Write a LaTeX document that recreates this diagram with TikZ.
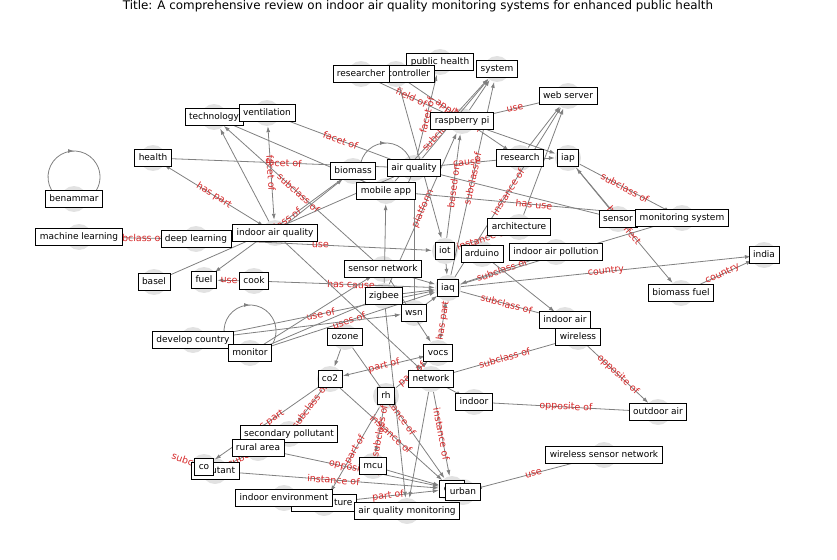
\documentclass[tikz,border=0pt]{standalone}
\usepackage{fontspec}
\setmainfont{DejaVu Sans}
\usetikzlibrary{arrows.meta,decorations.markings}
\definecolor{edgegray}{RGB}{128,128,128}
\definecolor{labelred}{RGB}{214,39,40}
\definecolor{nodegray}{RGB}{226,226,226}
\tikzset{
  dot/.style={circle, fill=nodegray, draw=none, minimum size=26pt, inner sep=0pt},
  box/.style={draw=black, fill=white, line width=0.8pt, inner xsep=4pt, inner ysep=4pt,
              font=\fontsize{9}{9}\selectfont, text height=6.8pt, text depth=2pt},
  conn/.style={draw=edgegray, line width=0.8pt, -{Latex[length=6pt,width=4pt]}},
  biconn/.style={draw=edgegray, line width=0.8pt, {Latex[length=6pt,width=4pt]}-{Latex[length=6pt,width=4pt]}},
  elabel/.style={text=labelred, font=\fontsize{9.5}{9.5}\selectfont, sloped, inner sep=0pt, midway},
  loopc/.style={draw=edgegray, line width=0.8pt, postaction={decorate},
     decoration={markings, mark=at position 0.5 with {\arrow{Latex[length=6pt,width=4pt]}}}}
}
\begin{document}
\begin{tikzpicture}[x=1pt,y=-1pt]
\useasboundingbox (0,0) rectangle (837,559);
% ---------- node discs ----------
\node[dot] (c-pubhealth) at (440,62) {};
\node[dot] (c-system) at (497,69) {};
\node[dot] (c-controller) at (396,74) {};
\node[dot] (c-researcher) at (361,74) {};
\node[dot] (c-webserver) at (568,96) {};
\node[dot] (c-rpi) at (462,121) {};
\node[dot] (c-technology) at (214,117) {};
\node[dot] (c-ventilation) at (267,113) {};
\node[dot] (c-health) at (153,158) {};
\node[dot] (c-research) at (520,158) {};
\node[dot] (c-iap) at (568,158) {};
\node[dot] (c-biomass) at (353,171) {};
\node[dot] (c-airq) at (414,168) {};
\node[dot] (c-mobileapp) at (386,191) {};
\node[dot] (c-benammar) at (74,199) {};
\node[dot] (c-sensor) at (618,219) {};
\node[dot] (c-monsys) at (682,218) {};
\node[dot] (c-architecture) at (519,227) {};
\node[dot] (c-ml) at (79,237) {};
\node[dot] (c-dl) at (196,239) {};
\node[dot] (c-iaqual) at (275,233) {};
\node[dot] (c-iot) at (445,251) {};
\node[dot] (c-arduino) at (482,254) {};
\node[dot] (c-iapoll) at (556,252) {};
\node[dot] (c-india) at (764,255) {};
\node[dot] (c-sensnet) at (383,269) {};
\node[dot] (c-basel) at (154,282) {};
\node[dot] (c-fuel) at (204,280) {};
\node[dot] (c-cook) at (254,281) {};
\node[dot] (c-iaq) at (448,288) {};
\node[dot] (c-zigbee) at (384,296) {};
\node[dot] (c-biofuel) at (681,293) {};
\node[dot] (c-wsn) at (414,313) {};
\node[dot] (c-indoorair) at (565,320) {};
\node[dot] (c-wireless) at (578,337) {};
\node[dot] (c-devcountry) at (193,340) {};
\node[dot] (c-ozone) at (345,337) {};
\node[dot] (c-monitor) at (250,353) {};
\node[dot] (c-vocs) at (438,353) {};
\node[dot] (c-co2) at (330,379) {};
\node[dot] (c-network) at (431,379) {};
\node[dot] (c-rh) at (386,396) {};
\node[dot] (c-indoor) at (474,402) {};
\node[dot] (c-outdoorair) at (658,412) {};
\node[dot] (c-secpoll) at (289,434) {};
\node[dot] (c-rural) at (258,448) {};
\node[dot] (c-wsnfull) at (604,455) {};
\node[dot] (c-pollutant) at (215,471) {};
\node[dot] (c-co) at (204,467) {};
\node[dot] (c-mcu) at (373,466) {};
\node[dot] (c-temperature) at (324,503) {};
\node[dot] (c-indoorenv) at (284,498) {};
\node[dot] (c-city) at (452,489) {};
\node[dot] (c-urban) at (463,492) {};
\node[dot] (c-aqm) at (407,511) {};
% ---------- connectors ----------
\draw[conn] (c-researcher) -- node[elabel]{field of} (c-rpi);
\draw[conn] (c-controller) -- node[elabel]{application} (c-research);
\draw[conn] (c-airq) -- node[elabel]{facet of} (c-pubhealth);
\draw[conn] (c-mobileapp) -- node[elabel]{subclass of} (c-system);
\draw[conn] (c-zigbee) -- node[elabel]{platform} (c-rpi);
\draw[conn] (c-iot) -- node[elabel]{based on} (c-rpi);
\draw[conn] (c-iaq) -- node[elabel]{subclass of} (c-system);
\draw[conn] (c-iaq) -- node[elabel]{instance of} (c-webserver);
\draw[conn] (c-airq) -- node[elabel]{cause} (c-research);
\draw[conn] (c-rpi) -- node[elabel]{use} (c-webserver);
\draw[conn] (c-research) -- (c-webserver);
\draw[conn] (c-architecture) -- (c-webserver);
\draw[conn] (c-rpi) -- (c-iap);
\draw[conn] (c-research) -- (c-iap);
\draw[conn] (c-iap) -- node[elabel]{subclass of} (c-monsys);
\draw[conn] (c-sensor) -- (c-iap);
\draw[conn] (c-iap) -- node[elabel]{has effect} (c-biofuel);
\draw[conn] (c-mobileapp) -- node[elabel]{has use} (c-monsys);
\draw[conn] (c-rpi) -- (c-system);
\draw[conn] (c-airq) -- (c-system);
\draw[conn] (c-controller) -- (c-iot);
\draw[conn] (c-ventilation) -- node[elabel]{facet of} (c-airq);
\draw[conn] (c-health) -- node[elabel]{facet of} (c-airq);
\draw[biconn] (c-iaqual) -- node[elabel]{facet of} (c-ventilation);
\draw[biconn] (c-iaqual) -- node[elabel]{has part} (c-health);
\draw[conn] (c-iaqual) -- (c-technology);
\draw[conn] (c-sensnet) -- node[elabel]{subclass of} (c-technology);
\draw[conn] (c-biomass) -- node[elabel]{subclass of} (c-fuel);
\draw[conn] (c-dl) -- node[elabel]{subclass of} (c-ml);
\draw[conn] (c-dl) -- node[elabel]{use} (c-iot);
\draw[conn] (c-basel) -- (c-airq);
\draw[conn] (c-cook) -- node[elabel]{use} (c-fuel);
\draw[conn] (c-cook) -- node[elabel]{has cause} (c-iaq);
\draw[conn] (c-technology) -- (c-mobileapp);
\draw[conn] (c-iaqual) -- (c-biomass);
\draw[conn] (c-iaqual) -- (c-network);
\draw[conn] (c-devcountry) -- node[elabel]{use of} (c-iaq);
\draw[conn] (c-monitor) -- node[elabel]{uses of} (c-iaq);
\draw[conn] (c-monitor) -- (c-zigbee);
\draw[conn] (c-devcountry) -- (c-wsn);
\draw[conn] (c-monitor) -- (c-sensnet);
\draw[conn] (c-zigbee) -- (c-mobileapp);
\draw[conn] (c-wsn) -- (c-airq);
\draw[conn] (c-sensnet) -- (c-iaq);
\draw[conn] (c-zigbee) -- (c-iaq);
\draw[conn] (c-wsn) -- (c-iaq);
\draw[biconn] (c-iaq) -- node[elabel]{has part} (c-vocs);
\draw[conn] (c-iot) -- (c-iaq);
\draw[conn] (c-iot) -- node[elabel]{instance of} (c-architecture);
\draw[conn] (c-iapoll) -- node[elabel]{subclass of} (c-iaq);
\draw[conn] (c-iaq) -- node[elabel]{country} (c-india);
\draw[conn] (c-biofuel) -- node[elabel]{country} (c-india);
\draw[conn] (c-iaq) -- node[elabel]{subclass of} (c-indoorair);
\draw[conn] (c-arduino) -- (c-indoorair);
\draw[conn] (c-iaq) -- (c-monsys);
\draw[conn] (c-airq) -- (c-sensor);
\draw[conn] (c-network) -- node[elabel]{subclass of} (c-wireless);
\draw[conn] (c-wireless) -- node[elabel]{opposite of} (c-outdoorair);
\draw[conn] (c-indoor) -- node[elabel]{opposite of} (c-outdoorair);
\draw[conn] (c-wsnfull) -- node[elabel]{use} (c-urban);
\draw[conn] (c-network) -- node[elabel]{instance of} (c-city);
\draw[conn] (c-co2) -- node[elabel]{instance of} (c-city);
\draw[conn] (c-ozone) -- node[elabel]{instance of} (c-city);
\draw[conn] (c-pollutant) -- node[elabel]{instance of} (c-city);
\draw[conn] (c-rural) -- node[elabel]{opposite of} (c-city);
\draw[conn] (c-temperature) -- node[elabel]{part of} (c-city);
\draw[conn] (c-mcu) -- (c-city);
\draw[conn] (c-network) -- (c-aqm);
\draw[conn] (c-zigbee) -- (c-aqm);
\draw[conn] (c-network) -- (c-indoor);
\draw[conn] (c-sensnet) -- (c-vocs);
\draw[biconn] (c-vocs) -- node[elabel]{part of} (c-co2);
\draw[conn] (c-rh) -- node[elabel]{part of} (c-vocs);
\draw[conn] (c-rh) -- node[elabel]{subclass of} (c-mcu);
\draw[conn] (c-rh) -- node[elabel]{part of} (c-temperature);
\draw[conn] (c-co2) -- node[elabel]{subclass of} (c-secpoll);
\draw[conn] (c-co2) -- node[elabel]{has part} (c-co);
\draw[conn] (c-secpoll) -- node[elabel]{subclass of} (c-pollutant);
\draw[conn] (c-co) -- node[elabel]{subclass of} (c-pollutant);
\draw[conn] (c-ozone) -- (c-co2);
% ---------- self loops ----------
\draw[loopc] ([shift={(-22.5,-9)}]c-benammar.center) arc[start angle=150,end angle=390,radius=26];
\draw[loopc] ([shift={(-22.5,-9)}]c-monitor.center) arc[start angle=150,end angle=390,radius=26];
\draw[loopc] ([shift={(-22.5,-9)}]c-mobileapp.center) arc[start angle=150,end angle=390,radius=26];
% ---------- label boxes ----------
\node[box] (pubhealth) at (c-pubhealth) {public health};
\node[box] (system) at (c-system) {system};
\node[box] (controller) at (c-controller) {microcontroller};
\node[box] (researcher) at (c-researcher) {researcher};
\node[box] (webserver) at (c-webserver) {web server};
\node[box] (rpi) at (c-rpi) {raspberry pi};
\node[box] (technology) at (c-technology) {technology};
\node[box] (ventilation) at (c-ventilation) {ventilation};
\node[box] (health) at (c-health) {health};
\node[box] (research) at (c-research) {research};
\node[box] (iap) at (c-iap) {iap};
\node[box] (biomass) at (c-biomass) {biomass};
\node[box] (airq) at (c-airq) {air quality};
\node[box] (mobileapp) at (c-mobileapp) {mobile app};
\node[box] (benammar) at (c-benammar) {benammar};
\node[box] (sensor) at (c-sensor) {sensor};
\node[box] (monsys) at (c-monsys) {monitoring system};
\node[box] (architecture) at (c-architecture) {architecture};
\node[box] (ml) at (c-ml) {machine learning};
\node[box] (dl) at (c-dl) {deep learning};
\node[box] (iaqual) at (c-iaqual) {indoor air quality};
\node[box] (iot) at (c-iot) {iot};
\node[box] (arduino) at (c-arduino) {arduino};
\node[box] (iapoll) at (c-iapoll) {indoor air pollution};
\node[box] (india) at (c-india) {india};
\node[box] (sensnet) at (c-sensnet) {sensor network};
\node[box] (basel) at (c-basel) {basel};
\node[box] (fuel) at (c-fuel) {fuel};
\node[box] (cook) at (c-cook) {cook};
\node[box] (iaq) at (c-iaq) {iaq};
\node[box] (zigbee) at (c-zigbee) {zigbee};
\node[box] (biofuel) at (c-biofuel) {biomass fuel};
\node[box] (wsn) at (c-wsn) {wsn};
\node[box] (indoorair) at (c-indoorair) {indoor air};
\node[box] (wireless) at (c-wireless) {wireless};
\node[box] (devcountry) at (c-devcountry) {develop country};
\node[box] (ozone) at (c-ozone) {ozone};
\node[box] (monitor) at (c-monitor) {monitor};
\node[box] (vocs) at (c-vocs) {vocs};
\node[box] (co2) at (c-co2) {co2};
\node[box] (network) at (c-network) {network};
\node[box] (rh) at (c-rh) {rh};
\node[box] (indoor) at (c-indoor) {indoor};
\node[box] (outdoorair) at (c-outdoorair) {outdoor air};
\node[box] (secpoll) at (c-secpoll) {secondary pollutant};
\node[box] (rural) at (c-rural) {rural area};
\node[box] (wsnfull) at (c-wsnfull) {wireless sensor network};
\node[box] (pollutant) at (c-pollutant) {pollutant};
\node[box] (co) at (c-co) {co};
\node[box] (mcu) at (c-mcu) {mcu};
\node[box] (temperature) at (c-temperature) {temperature};
\node[box] (indoorenv) at (c-indoorenv) {indoor environment};
\node[box] (city) at (c-city) {city};
\node[box] (urban) at (c-urban) {urban};
\node[box] (aqm) at (c-aqm) {air quality monitoring};
% ---------- title ----------
\node[font=\fontsize{11.9}{11.9}\selectfont, inner sep=0pt] (title) at (418,6) {Title: A comprehensive review on indoor air quality monitoring systems for enhanced public health};
\end{tikzpicture}
\end{document}
